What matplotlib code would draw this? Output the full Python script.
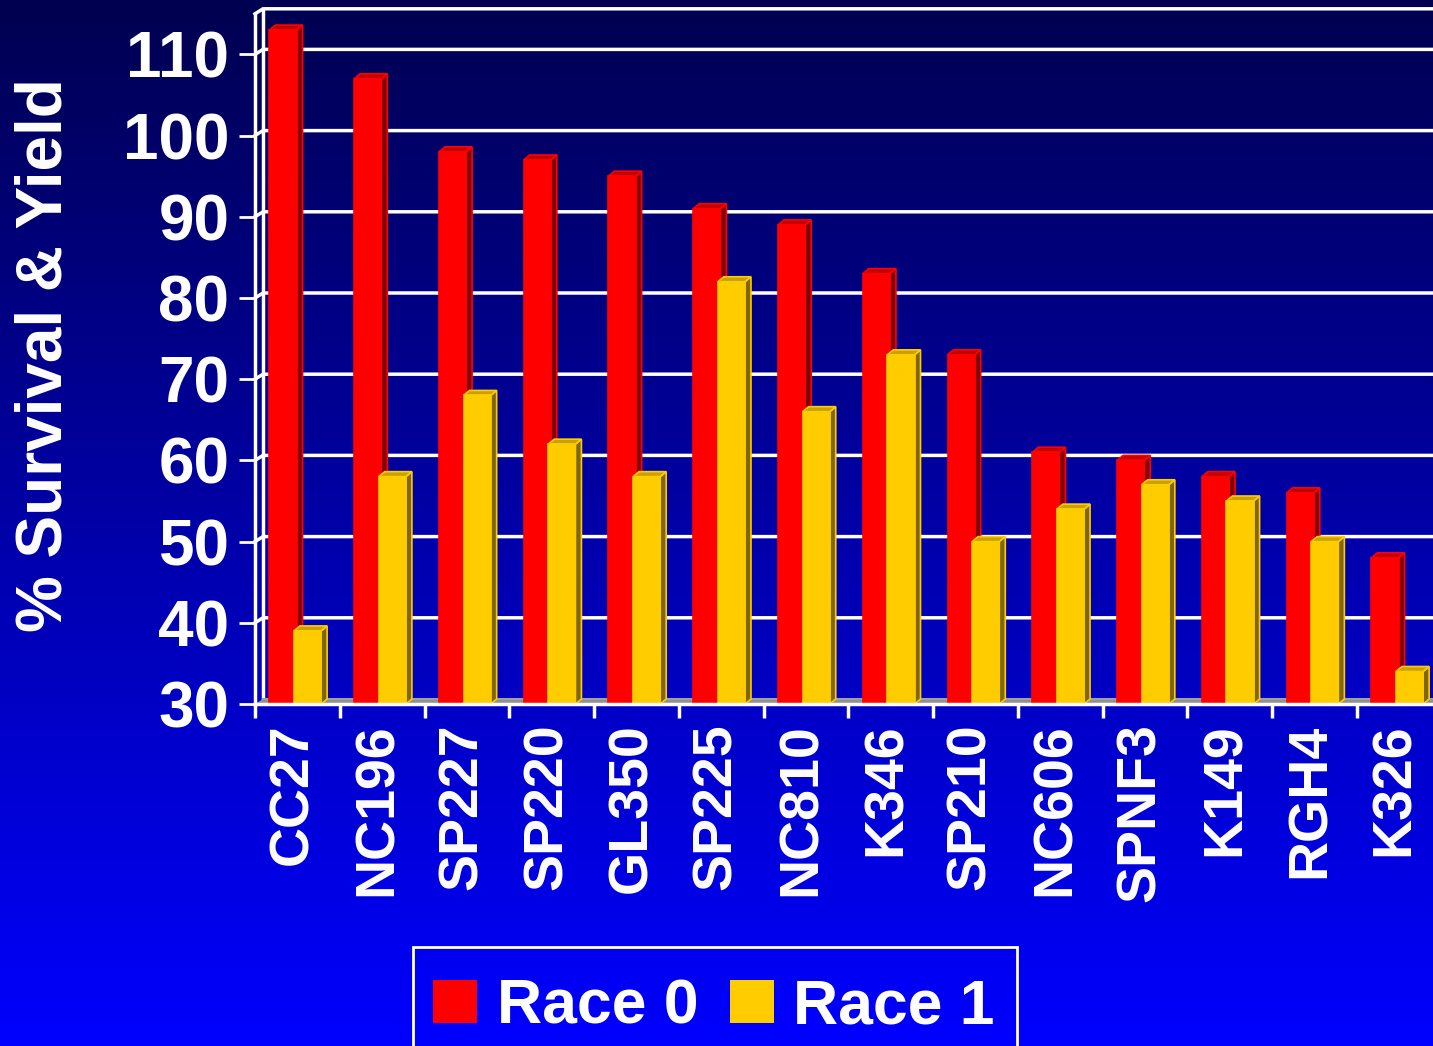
import numpy as np
import matplotlib
matplotlib.use('Agg')
import matplotlib.pyplot as plt
from matplotlib.patches import Polygon, Rectangle
from matplotlib.colors import LinearSegmentedColormap

categories = ['CC27', 'NC196', 'SP227', 'SP220', 'GL350', 'SP225', 'NC810',
              'K346', 'SP210', 'NC606', 'SPNF3', 'K149', 'RGH4', 'K326']
race0 = [113, 107, 98, 97, 95, 91, 89, 83, 73, 61, 60, 58, 56, 48]
race1 = [39, 58, 68, 62, 58, 82, 66, 73, 50, 54, 57, 55, 50, 34]
yticks = [30, 40, 50, 60, 70, 80, 90, 100, 110]
series_names = ['Race 0', 'Race 1']
series_colors = ['#ff0000', '#ffcc00']

plt.rcParams['font.family'] = ['Liberation Sans', 'DejaVu Sans']
plt.rcParams['font.weight'] = 'bold'

W, H = 1433, 1046
fig = plt.figure(figsize=(W / 100, H / 100), dpi=100)

# background gradient
bg = fig.add_axes([0, 0, 1, 1], zorder=-10)
grad = np.linspace(0, 1, 256).reshape(-1, 1)
cmap = LinearSegmentedColormap.from_list('bg', ['#000050', '#0000ff'])
bg.imshow(grad, aspect='auto', cmap=cmap, extent=[0, 1, 0, 1], origin='upper')
bg.set_xlim(0, 1)
bg.set_ylim(0, 1)
bg.set_axis_off()

# plot geometry in pixels
x0_px = 255
y0_px = 704
cat_px = 84.77
val_px = 8.12
ymin = 30
ymax = ymin + y0_px / val_px
xmax = (W - x0_px) / cat_px

ax = fig.add_axes([x0_px / W, (H - y0_px) / H, 1 - x0_px / W, y0_px / H])
ax.set_xlim(0, xmax)
ax.set_ylim(ymin, ymax)
ax.patch.set_alpha(0)
for s in ax.spines.values():
    s.set_visible(False)

# depth offsets (back wall)
dx = 8 / cat_px
dy = 5 / val_px
top = 115.0
n = len(categories)

# back wall grid
for v in yticks[1:]:
    ax.plot([0, dx, xmax + 1], [v, v + dy, v + dy], color='white', lw=2.5,
            clip_on=False, zorder=1)
ax.plot([0, dx, xmax + 1], [top, top + dy, top + dy], color='white', lw=2.5,
        clip_on=False, zorder=1)
ax.plot([dx, dx], [ymin + dy, top + dy], color='white', lw=2.5, zorder=1)
# floor
ax.add_patch(Polygon([[0, ymin], [dx, ymin + dy], [xmax + 1, ymin + dy], [xmax + 1, ymin]],
                     closed=True, facecolor='#909090', edgecolor='none', zorder=1))
ax.plot([dx, xmax + 1], [ymin + dy, ymin + dy], color='#a0a0a0', lw=1.5, zorder=1)
ax.plot([0, 0], [ymin, top], color='white', lw=2.5, zorder=5, clip_on=False)
ax.plot([0, xmax + 1], [ymin, ymin], color='white', lw=2.5, zorder=5, clip_on=False)


def bar3d(x_left, width, value, front, side, topc, edge):
    bdx = 6 / cat_px
    bdy = 5 / val_px
    xr = x_left + width
    ax.add_patch(Polygon([[xr, ymin], [xr + bdx, ymin + bdy], [xr + bdx, value + bdy], [xr, value]],
                         closed=True, facecolor=side, edgecolor=edge, lw=1.2, zorder=3))
    ax.add_patch(Polygon([[x_left, value], [x_left + bdx, value + bdy], [xr + bdx, value + bdy], [xr, value]],
                         closed=True, facecolor=topc, edgecolor=edge, lw=1.2, zorder=3))
    ax.add_patch(Polygon([[x_left, ymin], [x_left, value], [xr, value], [xr, ymin]],
                         closed=True, facecolor=front, edgecolor=edge, lw=1.2, zorder=3))


bw = 0.32
for i in range(n):
    bar3d(i + 0.17, bw, race0[i], series_colors[0], '#800000', '#c00000', series_colors[0])
    bar3d(i + 0.46, bw, race1[i], series_colors[1], '#806600', '#c8a000', series_colors[1])

# y ticks
ax.set_yticks(yticks)
ax.set_yticklabels([str(v) for v in yticks])
ax.tick_params(axis='y', colors='white', length=11.5, width=2, pad=7,
               labelsize=46)

# x ticks: marks at boundaries, labels at centres
ax.set_xticks(np.arange(n) + 0.45)
ax.set_xticklabels(categories, rotation=90, va='top', ha='center')
ax.set_xticks(np.arange(n), minor=True)
ax.tick_params(axis='x', which='major', length=0, pad=14, colors='white', labelsize=40)
ax.tick_params(axis='x', which='minor', length=10, width=2.5, color='white')

fig.text(45 / W, 1 - 355 / H, '% Survival & Yield', rotation=90, ha='center',
         va='center', color='white', fontsize=46, fontweight='bold')

# legend drawn by hand so the box can run off the bottom edge
def fx(px):
    return px / W


def fy(py):
    return 1 - py / H


fig.patches.append(Rectangle((fx(413), fy(1070)), fx(1017) - fx(413), fy(947) - fy(1070),
                             transform=fig.transFigure, facecolor='none',
                             edgecolor='white', lw=2, zorder=5))
sq_x = [433, 730]
txt_x = [497, 793]
for k in range(2):
    fig.patches.append(Rectangle((fx(sq_x[k]), fy(1023)), 44 / W, 43 / H,
                                 transform=fig.transFigure,
                                 facecolor=series_colors[k], edgecolor='none', zorder=5))
    fig.text(fx(txt_x[k]), fy(1024), series_names[k], ha='left', va='baseline',
             color='white', fontsize=45, fontweight='bold')

fig.savefig('out.png', dpi=100)
